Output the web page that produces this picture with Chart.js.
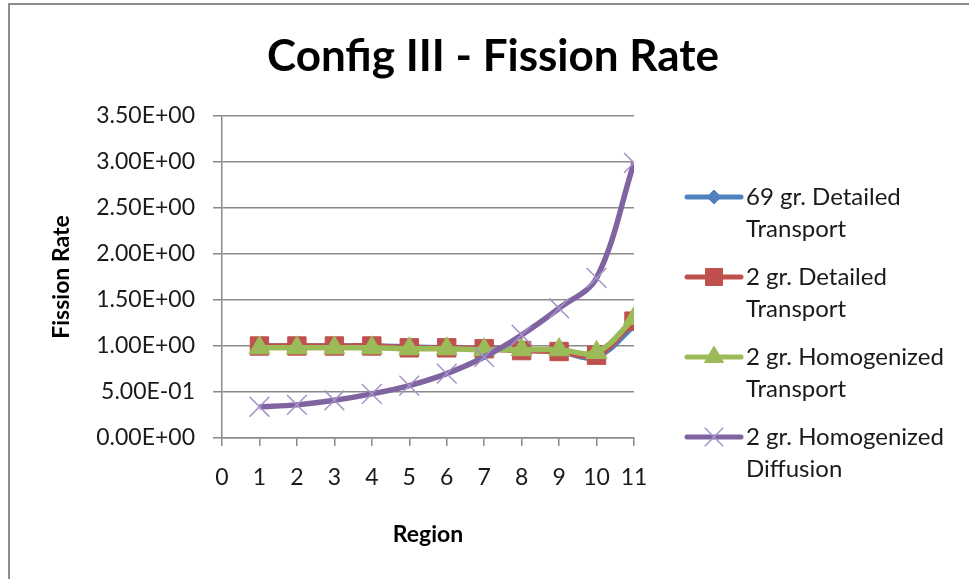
<!DOCTYPE html>
<html>
<head>
<meta charset="utf-8">
<title>Config III - Fission Rate</title>
<script src="https://cdn.jsdelivr.net/npm/chart.js@4/dist/chart.umd.min.js"></script>
<style>
  html, body { margin: 0; padding: 0; background: #fff; }
  #wrap { width: 969px; height: 579px; }
</style>
</head>
<body>
<div id="wrap"><canvas id="fissionChart" width="969" height="579"></canvas></div>
<script>
/* Config III - fission rate per region */
const chartTitle = 'Config III - Fission Rate';
const regions = [1, 2, 3, 4, 5, 6, 7, 8, 9, 10, 11];
const yTicks = [0, 0.5, 1.0, 1.5, 2.0, 2.5, 3.0, 3.5];

const detailed69 = [1.00, 1.00, 1.00, 1.00, 0.99, 0.98, 0.97, 0.96, 0.94, 0.88, 1.22];
const detailed2 = [1.00, 1.00, 1.00, 1.00, 0.98, 0.98, 0.97, 0.95, 0.94, 0.90, 1.27];
const homogTransport2 = [0.98, 0.98, 0.98, 0.98, 0.97, 0.97, 0.96, 0.96, 0.96, 0.93, 1.30];
const homogDiffusion2 = [0.34, 0.36, 0.41, 0.48, 0.57, 0.70, 0.88, 1.12, 1.41, 1.74, 2.99];

const seriesNames = [
  ['69 gr. Detailed', 'Transport'],
  ['2 gr. Detailed', 'Transport'],
  ['2 gr. Homogenized', 'Transport'],
  ['2 gr. Homogenized', 'Diffusion']
];

(function () {
  const FONT = 'Lato, "Open Sans", sans-serif';
  const TEXT = '#1a1a1a';
  const GRID = '#8a8a8a';

  function pts(vals) { return regions.map((r, i) => ({ x: r, y: vals[i] })); }

  function sci(v) {
    const parts = Number(v).toExponential(2).toUpperCase().split('E');
    let exp = parseInt(parts[1], 10);
    const sign = exp < 0 ? '-' : '+';
    exp = Math.abs(exp);
    return parts[0] + 'E' + sign + (exp < 10 ? '0' : '') + exp;
  }

  // gray frame on the left and top + title centred on the whole picture
  const framePlugin = {
    id: 'frame',
    beforeDraw(chart) {
      const ctx = chart.ctx;
      ctx.save();
      ctx.strokeStyle = '#8c8c8c';
      ctx.lineWidth = 2;
      ctx.beginPath();
      ctx.moveTo(9, chart.height);
      ctx.lineTo(9, 4);
      ctx.lineTo(chart.width, 4);
      ctx.stroke();
      ctx.fillStyle = '#000';
      ctx.font = 'bold 44px ' + FONT;
      ctx.textAlign = 'center';
      ctx.textBaseline = 'middle';
      ctx.fillText(chartTitle, 493, 57);
      ctx.restore();
    }
  };

  // legend on the right with line + marker and two-line labels
  const sideLegend = {
    id: 'sideLegend',
    afterDraw(chart) {
      const ctx = chart.ctx;
      const h = Chart.helpers;
      const x0 = 687, x1 = 741, tx = 746;
      let y = 197;
      ctx.save();
      chart.data.datasets.forEach((ds, i) => {
        ctx.strokeStyle = ds.borderColor;
        ctx.lineWidth = 5;
        ctx.lineCap = 'round';
        ctx.beginPath();
        ctx.moveTo(x0, y);
        ctx.lineTo(x1, y);
        ctx.stroke();
        ctx.fillStyle = ds.pointBackgroundColor;
        ctx.strokeStyle = ds.pointBorderColor;
        ctx.lineWidth = ds.pointBorderWidth;
        ctx.lineCap = 'butt';
        h.drawPoint(ctx, { pointStyle: ds.pointStyle, radius: ds.legendRadius, rotation: 0, borderWidth: ds.pointBorderWidth }, (x0 + x1) / 2, y);
        ctx.fillStyle = TEXT;
        ctx.font = '24px ' + FONT;
        ctx.textAlign = 'left';
        ctx.textBaseline = 'middle';
        seriesNames[i].forEach((line, k) => ctx.fillText(line, tx, y + k * 32));
        y += 80;
      });
      ctx.restore();
    }
  };

  function line(idx, vals, color, style, radius, legendRadius, markerColor, bw, order) {
    return {
      label: seriesNames[idx].join(' '),
      data: pts(vals),
      borderColor: color,
      borderWidth: 5.5,
      tension: 0.35,
      pointStyle: style,
      pointRadius: radius,
      legendRadius: legendRadius,
      pointBackgroundColor: markerColor,
      pointBorderColor: markerColor,
      pointBorderWidth: bw,
      order: order
    };
  }

  const ctx = document.getElementById('fissionChart').getContext('2d');
  new Chart(ctx, {
    type: 'line',
    data: {
      datasets: [
        line(0, detailed69, '#4F81BD', 'rectRot', 5, 7, '#4F81BD', 1, 4),
        line(1, detailed2, '#C0504D', 'rect', 13, 12, '#C0504D', 1, 3),
        line(2, homogTransport2, '#9BBB59', 'triangle', 12, 11, '#9BBB59', 1, 2),
        line(3, homogDiffusion2, '#8064A2', 'crossRot', 14, 13, '#a393c8', 1.5, 1)
      ]
    },
    options: {
      responsive: false,
      devicePixelRatio: 1,
      animation: false,
      layout: { padding: { left: 0, right: 335, top: 116, bottom: 0 } },
      plugins: {
        legend: { display: false },
        tooltip: { enabled: false },
        title: { display: false }
      },
      scales: {
        x: {
          type: 'linear',
          min: 0,
          max: 11,
          afterFit(scale) { scale.height = 579 - 438; },
          ticks: { stepSize: 1, color: TEXT, font: { family: FONT, size: 23 }, padding: 18, maxRotation: 0, autoSkip: false },
          grid: { drawOnChartArea: false, drawTicks: true, tickLength: 8, color: GRID, lineWidth: 1.5 },
          border: { color: GRID, width: 1.5 },
          title: { display: true, text: 'Region', color: '#000', font: { family: FONT, size: 23, weight: 'bold', lineHeight: 1.2 }, padding: { top: 0, bottom: 31 } }
        },
        y: {
          min: 0,
          max: 3.5,
          afterFit(scale) { scale.width = 222; },
          afterBuildTicks(scale) { scale.ticks = yTicks.map(v => ({ value: v })); },
          ticks: { color: TEXT, font: { family: FONT, size: 23 }, padding: 18, callback: v => sci(v) },
          grid: { color: GRID, lineWidth: 1.5, tickLength: 9 },
          border: { color: GRID, width: 1.5 },
          title: { display: true, text: 'Fission Rate', color: '#000', font: { family: FONT, size: 23, weight: 'bold', lineHeight: 1.2 }, padding: { top: 48, bottom: 0 } }
        }
      }
    },
    plugins: [framePlugin, sideLegend]
  });
})();
</script>
</body>
</html>
